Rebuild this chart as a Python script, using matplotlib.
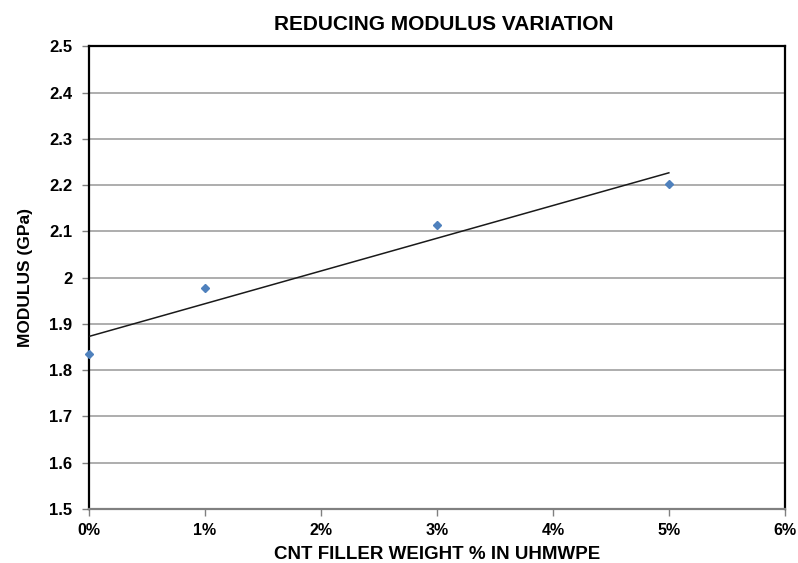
import matplotlib
matplotlib.use("Agg")
import matplotlib.pyplot as plt
import numpy as np
from matplotlib.ticker import FuncFormatter, MultipleLocator

plt.rcParams['font.family'] = ['Liberation Sans', 'DejaVu Sans']

filler_pct = [0, 1, 3, 5]
modulus_gpa = [1.835, 1.977, 2.113, 2.203]
title = "REDUCING MODULUS VARIATION"
xlabel = "CNT FILLER WEIGHT % IN UHMWPE"
ylabel = "MODULUS (GPa)"

fig = plt.figure(figsize=(7.98, 5.63), dpi=100)
ax = fig.add_axes([0.1115, 0.0959, 0.872, 0.822])

ax.set_xlim(0, 6)
ax.set_ylim(1.5, 2.5)
ax.yaxis.set_major_locator(MultipleLocator(0.1))
ax.xaxis.set_major_locator(MultipleLocator(1))
ax.yaxis.set_major_formatter(FuncFormatter(lambda v, p: f"{v:g}" if abs(v-2) > 1e-9 else "2"))
ax.xaxis.set_major_formatter(FuncFormatter(lambda v, p: f"{int(round(v))}%"))

ax.grid(axis='y', color='#a0a0a0', linewidth=1.2)
ax.set_axisbelow(True)

x = np.array(filler_pct, dtype=float)
y = np.array(modulus_gpa)
slope, intercept = np.polyfit(x, y, 1)
xt = np.array([x.min(), x.max()])
ax.plot(xt, intercept + slope * xt, color='#1a1a1a', linewidth=1.1, zorder=3)
ax.plot(x, y, linestyle='none', marker='D', markersize=4.5, color='#4f81bd', zorder=4, clip_on=False)

for s in ['left', 'right', 'top']:
    ax.spines[s].set_color('black')
    ax.spines[s].set_linewidth(1.6)
ax.spines['bottom'].set_color('#808080')
ax.spines['bottom'].set_linewidth(1.6)

ax.tick_params(axis='both', direction='out', length=5, color='#808080', width=1,
               labelsize=12)
ax.tick_params(axis='y', pad=7)
ax.tick_params(axis='x', pad=5, labelsize=11.5)
for lbl in ax.get_xticklabels() + ax.get_yticklabels():
    lbl.set_fontweight('bold')

ax.set_title(title, fontsize=15, fontweight='bold', pad=12, x=0.51)
ax.set_xlabel(xlabel, fontsize=13.5, fontweight='bold', labelpad=6)
ax.set_ylabel(ylabel, fontsize=12.5, fontweight='bold', labelpad=12)

fig.savefig("out.png", dpi=100)
